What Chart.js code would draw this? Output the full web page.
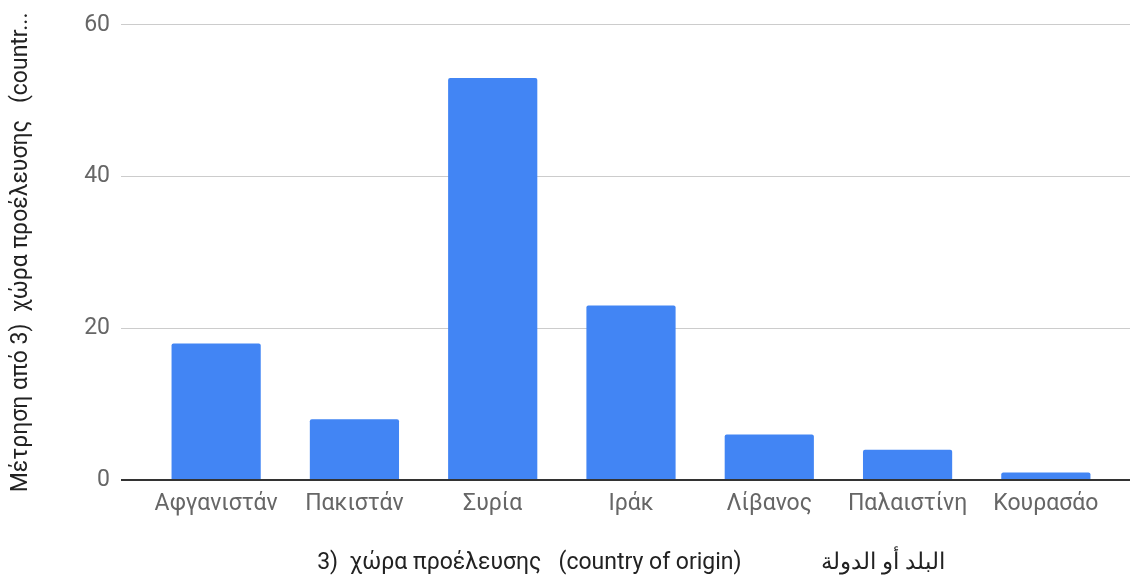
<!DOCTYPE html>
<html>
<head>
<meta charset="utf-8">
<script src="https://cdn.jsdelivr.net/npm/chart.js@4.4.0/dist/chart.umd.min.js"></script>
<style>
  html, body { margin: 0; padding: 0; background: #fff; }
  #wrap { width: 1130px; height: 578px; }
</style>
</head>
<body>
<div id="wrap"><canvas id="chart"></canvas></div>
<script>
const countries = ['Αφγανιστάν', 'Πακιστάν', 'Συρία', 'Ιράκ', 'Λίβανος', 'Παλαιστίνη', 'Κουρασάο'];
const counts = [18, 8, 53, 23, 6, 4, 1];
const yTicks = [0, 20, 40, 60];

const xTitle = '3)  χώρα προέλευσης   (country of origin)              البلد أو الدولة';
const yTitle = 'Μέτρηση από 3)  χώρα προέλευσης   (countr...';

const labelColor = '#666666';
const titleColor = '#222222';
const gridColor = '#cccccc';
const zeroColor = '#333333';
const tickFont = { family: 'Roboto', size: 23 };
const titleFont = { family: 'Roboto', size: 23 };

const lineColor = (ctx) => (ctx.tick && ctx.tick.value === 0 ? zeroColor : gridColor);
const lineWidth = (ctx) => (ctx.tick && ctx.tick.value === 0 ? 2 : 1);

new Chart(document.getElementById('chart'), {
  type: 'bar',
  data: {
    labels: countries,
    datasets: [
      {
        data: counts,
        backgroundColor: '#4285f4',
        borderRadius: { topLeft: 2, topRight: 2 },
        borderSkipped: 'bottom',
        categoryPercentage: 1,
        barPercentage: 0.645,
      },
    ],
  },
  options: {
    responsive: true,
    maintainAspectRatio: false,
    animation: false,
    layout: {
      padding: { top: 23, right: 0, bottom: 0, left: 0 },
    },
    scales: {
      x: {
        border: { display: false },
        grid: { display: false, drawTicks: false },
        ticks: { color: labelColor, font: tickFont, padding: 10, maxRotation: 0 },
        title: {
          display: true,
          text: xTitle,
          color: titleColor,
          font: titleFont,
          padding: { top: 0, bottom: 1 },
        },
        afterFit: (scale) => { scale.height = 98; },
      },
      y: {
        position: 'left',
        min: 0,
        max: 60,
        afterBuildTicks: (scale) => { scale.ticks = yTicks.map((v) => ({ value: v })); },
        border: { display: false },
        grid: { color: lineColor, lineWidth, tickLength: 26, tickColor: lineColor },
        ticks: { color: labelColor, font: tickFont, padding: 11 },
        title: {
          display: true,
          text: yTitle,
          color: titleColor,
          font: { family: 'Roboto', size: 23 },
          padding: { top: 7, bottom: 0 },
        },
        afterFit: (scale) => { scale.width = 147; },
      },
      y2: {
        position: 'right',
        min: 0,
        max: 60,
        afterBuildTicks: (scale) => { scale.ticks = yTicks.map((v) => ({ value: v })); },
        border: { display: false },
        grid: { drawOnChartArea: false, color: lineColor, lineWidth, tickLength: 15, tickColor: lineColor },
        ticks: { display: false },
        afterFit: (scale) => { scale.width = 15; },
      },
    },
    plugins: {
      legend: { display: false },
      tooltip: { enabled: false },
    },
  },
});
</script>
</body>
</html>
